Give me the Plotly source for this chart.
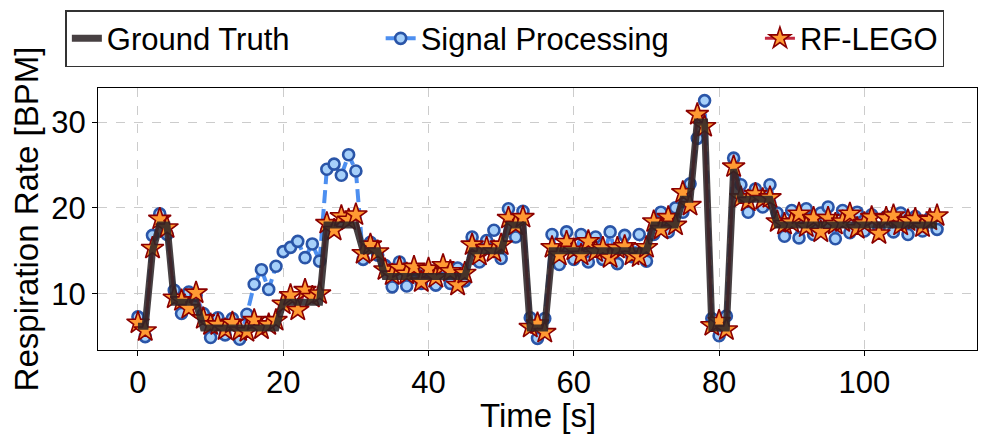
import plotly.graph_objects as go

time_s = list(range(0, 111))

ground_truth = (
    [6.2, 6.2, 15.0, 18.0, 18.0, 9.0, 9.0, 9.0, 9.0]
    + [6.0] * 11
    + [9.0] * 6
    + [18.0] * 5
    + [15.0] * 3
    + [12.0] * 12
    + [15.0] * 5
    + [18.0] * 3
    + [6.0] * 3
    + [15.0] * 14
    + [18.0] * 4
    + [21.0] * 2
    + [30.0] * 2
    + [6.0] * 3
    + [24.5]
    + [21.0] * 5
    + [18.0] * 23
)

signal_processing = [
    7.3, 5.0, 16.8, 19.3, 16.9, 10.4, 7.7, 10.2, 9.8, 7.7,
    4.9, 7.2, 5.2, 7.1, 4.7, 7.6, 11.1, 12.8, 10.5, 13.2,
    14.9, 15.4, 16.1, 14.2, 15.8, 13.8, 24.5, 25.1, 23.8, 26.2,
    24.3, 14.0, 16.0, 14.5, 13.3, 10.8, 13.7, 10.9, 12.8, 11.2,
    12.5, 11.0, 13.0, 11.2, 13.0, 11.5, 16.6, 13.7, 16.2, 17.4,
    14.1, 19.9, 16.6, 19.6, 7.2, 4.8, 7.1, 16.9, 13.4, 17.2,
    14.0, 16.9, 13.7, 16.6, 14.0, 17.2, 13.5, 16.8, 14.3, 16.9,
    13.8, 16.9, 19.5, 17.2, 20.0, 19.5, 22.8, 28.1, 32.5, 7.1,
    5.1, 7.4, 25.8, 22.7, 19.5, 22.2, 20.1, 22.7, 19.4, 16.7,
    19.7, 16.5, 19.9, 16.9, 19.4, 20.1, 16.4, 19.7, 17.1, 19.5,
    17.3, 19.2, 17.6, 19.0, 17.2, 19.4, 16.9, 19.0, 17.3, 18.8,
    17.5,
]

rf_lego = [
    6.6, 5.7, 15.3, 18.7, 17.7, 9.5, 9.2, 8.3, 10.1, 7.1,
    6.4, 6.4, 5.8, 6.6, 5.7, 5.6, 6.9, 5.9, 6.4, 6.9,
    8.8, 9.8, 8.1, 10.4, 9.6, 10.0, 18.2, 17.4, 19.0, 18.6,
    19.2, 14.7, 15.7, 14.9, 12.8, 12.2, 13.0, 12.3, 13.1, 11.4,
    12.9, 11.9, 13.3, 12.6, 11.0, 12.4, 15.7, 14.5, 15.3, 14.9,
    15.7, 18.8, 18.0, 18.9, 6.1, 6.5, 5.5, 15.4, 14.5, 16.0,
    15.1, 14.5, 16.1, 14.9, 15.3, 14.2, 15.3, 15.5, 14.5, 14.3,
    15.4, 18.4, 17.5, 18.9, 18.0, 21.8, 20.3, 30.9, 29.5, 6.3,
    6.8, 5.8, 24.8, 21.2, 20.8, 21.6, 21.0, 21.2, 18.4, 18.1,
    18.3, 19.3, 17.8, 18.8, 17.2, 18.8, 18.1, 18.4, 19.3, 17.6,
    18.2, 18.9, 17.0, 18.8, 19.1, 18.0, 18.5, 18.7, 17.8, 18.6,
    19.1,
]

x_ticks = [0, 20, 40, 60, 80, 100]
y_ticks = [10, 20, 30]

FONT = "Liberation Sans, Arial, Helvetica, sans-serif"
PAD = "\u00a0" * 10

fig = go.Figure()
fig.add_trace(go.Scatter(
    x=time_s, y=signal_processing, name="Signal Processing" + PAD, mode="lines+markers",
    line=dict(color="#4d8ff0", width=4, dash="13px,6px"),
    marker=dict(symbol="circle", size=11, color="#a6d0fa",
                line=dict(color="#2a55a8", width=2.6)),
    legendrank=2,
))
fig.add_trace(go.Scatter(
    x=time_s, y=rf_lego, name="RF-LEGO", mode="lines+markers",
    line=dict(color="#c4283f", width=3),
    marker=dict(symbol="star", size=17, color="#ff9a33",
                line=dict(color="#8b0000", width=1.6)),
    legendrank=3,
))
fig.add_trace(go.Scatter(
    x=time_s, y=ground_truth, name="Ground Truth" + PAD, mode="lines",
    line=dict(color="rgba(45,38,40,0.88)", width=7),
    legendrank=1,
))

axis_common = dict(
    showline=True, mirror=True, linecolor="black", linewidth=1.3,
    ticks="outside", ticklen=5, tickwidth=1.3, tickcolor="black",
    showgrid=True, gridcolor="#cccccc", griddash="dash", gridwidth=1,
    zeroline=False, tickfont=dict(size=31, color="black", family=FONT),
)

fig.update_layout(
    width=989, height=435,
    margin=dict(l=90, r=20, t=80, b=93, autoexpand=False),
    paper_bgcolor="white", plot_bgcolor="white",
    font=dict(family=FONT, color="black"),
    xaxis=dict(range=[-5.5, 115.5], tickvals=x_ticks, **axis_common),
    yaxis=dict(range=[3.44, 33.97], tickvals=y_ticks,
               title=dict(text="Respiration Rate [BPM]", font=dict(size=33), standoff=8),
               **axis_common),
    annotations=[dict(
        text="Time [s]", xref="paper", yref="paper", x=0.5, y=-0.25,
        xanchor="center", yanchor="middle", showarrow=False,
        font=dict(size=33, family=FONT, color="black"),
    )],
    legend=dict(
        orientation="h", xref="container", yref="container",
        x=0.058, xanchor="left", y=0.995, yanchor="top",
        font=dict(size=31, family=FONT, color="black"),
        bordercolor="#333333", borderwidth=1.5, bgcolor="white",
    ),
    showlegend=True,
)

fig.write_html("out.html")
